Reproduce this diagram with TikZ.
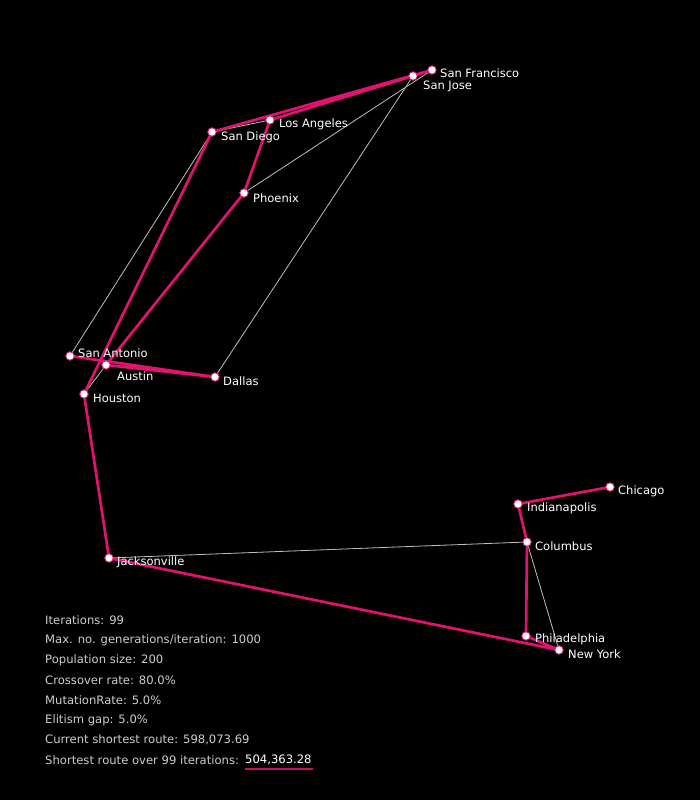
\documentclass[tikz,border=0pt]{standalone}
\usepackage{fontspec}
\setmainfont{DejaVu Sans}
\definecolor{route}{RGB}{225,18,112}
\definecolor{alt}{RGB}{190,190,190}
\definecolor{info}{RGB}{205,205,205}
\definecolor{uline}{RGB}{200,16,96}
\begin{document}
\begin{tikzpicture}[x=1pt,y=-1pt,
  city/.style={circle,draw=route,line width=0.9pt,fill=white,inner sep=0pt,minimum size=8.5pt},
  lbl/.style={anchor=west,text=white,font=\fontsize{11.5}{13}\selectfont,inner sep=0pt},
  best/.style={draw=route,line width=2.7pt,line cap=round},
  other/.style={draw=alt,line width=0.8pt},
  stat/.style={anchor=west,text=info,font=\fontsize{11.6}{13}\selectfont,inner sep=0pt}]
\fill[black] (0,0) rectangle (700,800);
\useasboundingbox (0,0) rectangle (700,800);
% city coordinates
\coordinate (SF) at (432,70);
\coordinate (SJ) at (413,76);
\coordinate (LA) at (270,120);
\coordinate (SD) at (212,132);
\coordinate (PH) at (244,193);
\coordinate (SA) at (70,356);
\coordinate (AU) at (106,365);
\coordinate (DA) at (215,377);
\coordinate (HO) at (84,394);
\coordinate (JA) at (109,558);
\coordinate (CH) at (610,487);
\coordinate (IN) at (518,504);
\coordinate (CO) at (527,542);
\coordinate (PHI) at (526,636);
\coordinate (NY) at (559,650);
% thin grey connectors
\draw[other] (JA) -- (CO);
\draw[other] (CO) -- (NY);
\draw[other] (SD) -- (LA);
\draw[other] (SA) -- (SD);
\draw[other] (PH) -- (SF);
\draw[other] (DA) -- (SJ);
\draw[other] (HO) -- (AU);
% pink route
\draw[best] (CH) -- (IN) -- (CO) -- (PHI) -- (NY) -- (JA) -- (HO) -- (SD) -- (SF) -- (SJ) -- (LA) -- (PH) -- (AU) -- (DA) -- (SA);
% city markers
\foreach \c in {SF,SJ,LA,SD,PH,SA,AU,DA,HO,JA,CH,IN,CO,PHI,NY}
  \node[city] (n\c) at (\c) {};
% labels
\node[lbl] (tSF) at (440,73) {San Francisco};
\node[lbl] (tSJ) at (423,86) {San Jose};
\node[lbl] (tLA) at (279,124) {Los Angeles};
\node[lbl] (tSD) at (221,137) {San Diego};
\node[lbl] (tPH) at (253,198) {Phoenix};
\node[lbl] (tSA) at (78,353) {San Antonio};
\node[lbl] (tAU) at (117,376) {Austin};
\node[lbl] (tDA) at (223,381) {Dallas};
\node[lbl] (tHO) at (93,398) {Houston};
\node[lbl] (tJA) at (117,562) {Jacksonville};
\node[lbl] (tCH) at (618,491) {Chicago};
\node[lbl] (tIN) at (527,508) {Indianapolis};
\node[lbl] (tCO) at (535,546) {Columbus};
\node[lbl] (tPHI) at (535,639) {Philadelphia};
\node[lbl] (tNY) at (568,654) {New York};
% statistics
\node[stat] (s1) at (45,620) {Iterations: 99};
\node[stat] (s2) at (45,640) {Max. no. generations/iteration: 1000};
\node[stat] (s3) at (45,660) {Population size: 200};
\node[stat] (s4) at (45,680) {Crossover rate: 80.0\%};
\node[stat] (s5) at (45,700) {MutationRate: 5.0\%};
\node[stat] (s6) at (45,720) {Elitism gap: 5.0\%};
\node[stat] (s7) at (45,740) {Current shortest route: 598,073.69};
\node[stat] (s8) at (45,760) {Shortest route over 99 iterations:};
\node[stat,text=white] (s9) at (245,760) {504,363.28};
\draw[uline,line width=1.2pt] (245,769) -- (313,769);
\end{tikzpicture}
\end{document}
